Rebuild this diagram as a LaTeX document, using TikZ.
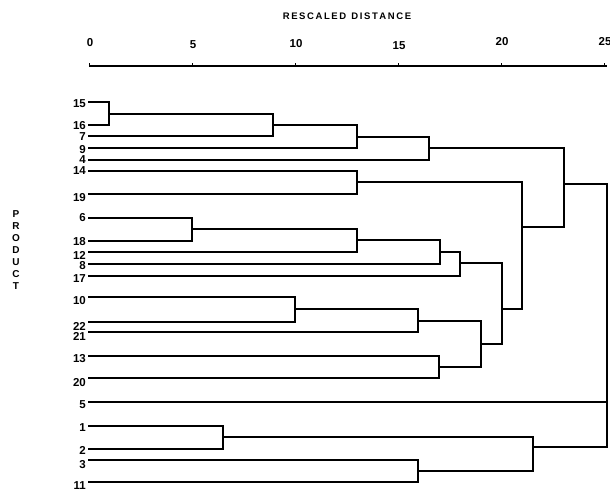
\documentclass[tikz,border=0pt]{standalone}
\usepackage{fontspec}
\setmainfont{Liberation Sans}
\begin{document}
\begin{tikzpicture}[x=1pt,y=-1pt,
  tree/.style={line width=1.2pt,line join=miter},
  leaflabel/.style={anchor=east,inner sep=0pt,font=\fontsize{11.5}{13}\selectfont\bfseries},
  axlabel/.style={anchor=base,inner sep=0pt,font=\fontsize{11.5}{13}\selectfont\bfseries},
  titlelabel/.style={inner sep=0pt,font=\fontsize{9.5}{11}\selectfont\bfseries}]
\useasboundingbox (0,0) rectangle (610,491);
% title
\node[titlelabel] (title) at (347,16) {R\,E\,S\,C\,A\,L\,E\,D\ \ D\,I\,S\,T\,A\,N\,C\,E};
\node[inner sep=0pt,align=center,font=\fontsize{10}{12}\selectfont\bfseries] (prod) at (16,250) {P\\R\\O\\D\\U\\C\\T};
% axis
\coordinate (ax0) at (89,66);
\coordinate (ax25) at (607,66);
\draw[tree] (ax0) -- (ax25);
\foreach \d/\ty in {0/46,5/48,10/47,15/49,20/45,25/45}{
  \coordinate (tk\d) at ({89+\d*20.6},66);
  \draw[line width=0.8pt] (tk\d) -- ++(0,-3);
  \node[axlabel] (n\d) at ({90+\d*20.6},\ty) {\d};
}
% leaves: name / line y / label y
\foreach \n/\ly/\ty in {15/102/104,16/125/126,7/136/137,9/148/150,4/160/160,14/171/171,19/194/198,
  6/218/218,18/241/242,12/252/255,8/264/266,17/276/279,10/297/301,22/322/326,21/332/336,
  13/356/359,20/378/383,5/402/405,1/426/428,2/449/450,3/460/465,11/482/486}{
  \coordinate (l\n) at (88,\ly);
  \node[leaflabel] (t\n) at (86,\ty) {\n};
}
% joins
\coordinate (A) at (109,114);
\coordinate (B) at (273,125);
\coordinate (C) at (357,137);
\coordinate (D) at (429,148);
\coordinate (E) at (357,182);
\coordinate (F) at (192,229);
\coordinate (G) at (357,240);
\coordinate (H) at (440,252);
\coordinate (I) at (460,263);
\coordinate (J) at (295,309);
\coordinate (K) at (418,321);
\coordinate (L) at (439,367);
\coordinate (M) at (481,344);
\coordinate (N) at (502,309);
\coordinate (O) at (522,227);
\coordinate (P) at (564,184);
\coordinate (Q) at (223,437);
\coordinate (R) at (418,471);
\coordinate (S) at (533,447);
\coordinate (T) at (607,184);
\draw[tree] (l15) -| (A) |- (l16);
\draw[tree] (A) -| (B) |- (l7);
\draw[tree] (B) -| (C) |- (l9);
\draw[tree] (C) -| (D) |- (l4);
\draw[tree] (l14) -| (E) |- (l19);
\draw[tree] (l6) -| (F) |- (l18);
\draw[tree] (F) -| (G) |- (l12);
\draw[tree] (G) -| (H) |- (l8);
\draw[tree] (H) -| (I) |- (l17);
\draw[tree] (l10) -| (J) |- (l22);
\draw[tree] (J) -| (K) |- (l21);
\draw[tree] (l13) -| (L) |- (l20);
\draw[tree] (K) -| (M) |- (L);
\draw[tree] (I) -| (N) |- (M);
\draw[tree] (E) -| (O) |- (N);
\draw[tree] (D) -| (P) |- (O);
\draw[tree] (l1) -| (Q) |- (l2);
\draw[tree] (l3) -| (R) |- (l11);
\draw[tree] (Q) -| (S) |- (R);
\draw[tree] (P) -- (T) |- (S);
\draw[tree] (l5) -- (l5 -| T);
\end{tikzpicture}
\end{document}
